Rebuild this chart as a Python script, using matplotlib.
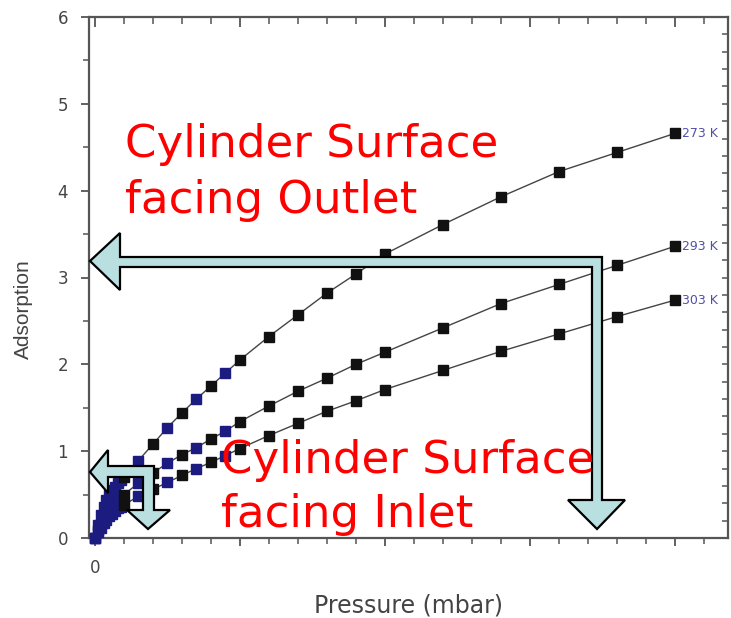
import matplotlib
matplotlib.use("Agg")
import matplotlib.pyplot as plt
import matplotlib.transforms as mtransforms
from matplotlib.patches import Polygon
from matplotlib.ticker import MultipleLocator, NullFormatter

# pressure points of the two runs (blue = low-pressure run, black = high-pressure run)
pressure_low = [0, 2, 4, 6, 8, 10, 12, 14, 16, 18, 30, 50, 70, 90]
pressure_high = [20, 40, 60, 80, 100, 120, 140, 160, 180, 200, 240, 280, 320, 360, 400]

ads_273_low = [0, 0.15, 0.27, 0.36, 0.44, 0.50, 0.55, 0.59, 0.63, 0.67, 0.89, 1.27, 1.60, 1.90]
ads_273_high = [0.70, 1.08, 1.44, 1.75, 2.05, 2.32, 2.57, 2.82, 3.04, 3.27, 3.61, 3.93, 4.22, 4.44, 4.66]

ads_293_low = [0, 0.09, 0.16, 0.22, 0.28, 0.33, 0.37, 0.41, 0.44, 0.47, 0.63, 0.86, 1.04, 1.23]
ads_293_high = [0.50, 0.75, 0.96, 1.14, 1.34, 1.52, 1.69, 1.84, 2.00, 2.14, 2.42, 2.70, 2.92, 3.14, 3.36]

ads_303_low = [0, 0.07, 0.12, 0.17, 0.21, 0.25, 0.28, 0.31, 0.34, 0.36, 0.48, 0.64, 0.80, 0.95]
ads_303_high = [0.38, 0.56, 0.72, 0.87, 1.03, 1.18, 1.32, 1.46, 1.58, 1.71, 1.93, 2.15, 2.35, 2.55, 2.74]

temps = ["273 K", "293 K", "303 K"]
series = [(ads_273_low, ads_273_high), (ads_293_low, ads_293_high), (ads_303_low, ads_303_high)]

W, H = 731, 618
fig = plt.figure(figsize=(W / 100, H / 100), dpi=100)
ax = fig.add_axes([89 / W, 1 - 538 / H, (728 - 89) / W, (538 - 17) / H])

axis_grey = "#555555"
for lbl, (lo, hi) in zip(temps, series):
    pts = sorted(zip(pressure_low + pressure_high, lo + hi))
    ax.plot([p[0] for p in pts], [p[1] for p in pts], color="#444444", lw=1.0, zorder=2)
    ax.plot(pressure_low, lo, ls="none", marker="s", ms=6.5, color="#1c1c80", zorder=3, clip_on=False)
    ax.plot(pressure_high, hi, ls="none", marker="s", ms=6.5, color="#111111", zorder=3, clip_on=False)
    ax.annotate(lbl, (pressure_high[-1], hi[-1]), xytext=(5, 0), textcoords="offset points",
                va="center", ha="left", fontsize=9, color="#5050a8", annotation_clip=False)

ax.set_xlim(-4, 436.5)
ax.set_ylim(0, 6)

for s in ax.spines.values():
    s.set_color(axis_grey)
    s.set_linewidth(1.6)

ax.xaxis.set_major_locator(MultipleLocator(100))
ax.xaxis.set_minor_locator(MultipleLocator(20))
ax.xaxis.set_major_formatter(lambda v, pos: "0" if abs(v) < 1e-9 else "")
ax.yaxis.set_major_locator(MultipleLocator(1))
ax.yaxis.set_minor_locator(MultipleLocator(0.5))
ax.tick_params(axis="x", which="both", bottom=True, top=False, direction="out", color=axis_grey,
               labelcolor="#444444", labelsize=12, pad=9)
ax.tick_params(axis="x", which="major", length=6, width=1.3)
ax.tick_params(axis="x", which="minor", length=4, width=1.1)
ax.tick_params(axis="y", which="both", left=True, right=False, direction="out", color=axis_grey,
               labelcolor="#444444", labelsize=12, pad=9)
ax.tick_params(axis="y", which="major", length=6, width=1.3)
ax.tick_params(axis="y", which="minor", length=4, width=1.1)

# top ticks point inward
tax = ax.twiny()
tax.set_xlim(ax.get_xlim())
tax.xaxis.set_major_locator(MultipleLocator(100))
tax.xaxis.set_minor_locator(MultipleLocator(20))
tax.xaxis.set_major_formatter(NullFormatter())
tax.tick_params(axis="x", which="both", direction="in", color=axis_grey)
tax.tick_params(axis="x", which="major", length=7, width=1.3)
tax.tick_params(axis="x", which="minor", length=5, width=1.1)

# right side has its own finer ticks, pointing in
rax = ax.twinx()
rax.set_ylim(0, 6)
rax.yaxis.set_major_locator(MultipleLocator(0.2))
rax.yaxis.set_major_formatter(NullFormatter())
rax.tick_params(axis="y", direction="in", length=4, width=1.1, color=axis_grey)
for a in (tax, rax):
    for s in a.spines.values():
        s.set_visible(False)

ax.set_xlabel("Pressure (mbar)", fontsize=17, color="#444444")
ax.xaxis.set_label_coords(0.5, -0.106)
ax.set_ylabel("Adsorption", fontsize=15, color="#444444", family="Liberation Sans")
ax.yaxis.set_label_coords(-0.088, 0.44)

# overlay annotations placed in image pixels (origin top-left)
px = mtransforms.Affine2D().scale(1 / W, -1 / H).translate(0, 1) + fig.transFigure
arrow_fill = "#b9dfe0"

outlet_arrow = [(90, 261), (120, 233), (120, 257), (602, 257), (602, 500), (625, 500), (597, 529),
                (568, 500), (592, 500), (592, 267), (120, 267), (120, 290)]
inlet_arrow = [(90, 472), (108, 450), (108, 466), (154, 466), (154, 510), (170, 510), (148, 529),
               (127, 510), (143, 510), (143, 477), (108, 477), (108, 493)]
for shape in (outlet_arrow, inlet_arrow):
    fig.patches.append(Polygon(shape, closed=True, transform=px, facecolor=arrow_fill,
                               edgecolor="black", lw=1.6, zorder=5))

red_kw = dict(transform=px, color="red", fontsize=32.5, va="baseline", ha="left", zorder=6)
fig.text(125, 157, "Cylinder Surface", **red_kw)
fig.text(125, 213, "facing Outlet", **red_kw)
fig.text(221, 473, "Cylinder Surface", **red_kw)
fig.text(221, 527, "facing Inlet", **red_kw)

fig.savefig("out.png", dpi=100, facecolor="white")
